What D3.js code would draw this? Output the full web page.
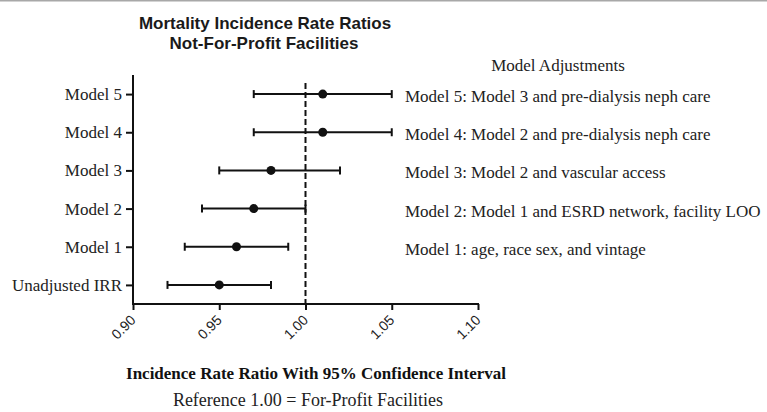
<!DOCTYPE html>
<html>
<head>
<meta charset="utf-8">
<script src="https://cdn.jsdelivr.net/npm/d3@7"></script>
<style>
  body { margin: 0; background: #fff; }
  svg { display: block; }
  .serif { font-family: "Liberation Serif", "Times New Roman", serif; }
</style>
</head>
<body>
<svg width="767" height="412"></svg>
<script>
// Models, from bottom to top
var models = ["Unadjusted IRR", "Model 1", "Model 2", "Model 3", "Model 4", "Model 5"];
var estimates = [0.95, 0.96, 0.97, 0.98, 1.01, 1.01];
var lowerCI = [0.92, 0.93, 0.94, 0.95, 0.97, 0.97];
var upperCI = [0.98, 0.99, 1.00, 1.02, 1.05, 1.05];

var xTicks = [0.90, 0.95, 1.00, 1.05, 1.10];

var adjustments = [
    "Model 5: Model 3 and pre-dialysis neph care",
    "Model 4: Model 2 and pre-dialysis neph care",
    "Model 3: Model 2 and vascular access",
    "Model 2: Model 1 and ESRD network, facility LOO",
    "Model 1: age, race sex, and vintage"
];
var adjustmentRows = ["Model 5", "Model 4", "Model 3", "Model 2", "Model 1"];

var data = models.map(function (m, i) {
    return { model: m, est: estimates[i], lo: lowerCI[i], hi: upperCI[i] };
});

var svg = d3.select("svg");

// thin grey rule along the top edge
svg.append("rect")
    .attr("x", 0).attr("y", 0)
    .attr("width", 767).attr("height", 1.5)
    .attr("fill", "#a8a8a8");

var xScale = d3.scaleLinear()
    .domain([0.90, 1.10])
    .range([133, 478]);

var yScale = d3.scalePoint()
    .domain(models)
    .range([304, 75])
    .padding(0.5);

// Title
svg.append("text")
    .attr("x", 265).attr("y", 29)
    .attr("text-anchor", "middle")
    .style("font", "bold 17px 'Liberation Sans', Arial, sans-serif")
    .attr("fill", "#1a1a1a")
    .text("Mortality Incidence Rate Ratios");
svg.append("text")
    .attr("x", 264).attr("y", 49)
    .attr("text-anchor", "middle")
    .style("font", "bold 17px 'Liberation Sans', Arial, sans-serif")
    .attr("fill", "#1a1a1a")
    .text("Not-For-Profit Facilities");

// x axis
var xAxis = d3.axisBottom(xScale)
    .tickValues(xTicks)
    .tickFormat(d3.format(".2f"))
    .tickSize(6)
    .tickSizeOuter(0);

var gx = svg.append("g")
    .attr("transform", "translate(0,304)")
    .call(xAxis);
gx.select(".domain").attr("stroke", "#111").attr("stroke-width", 2)
    .attr("d", "M" + (xScale.range()[0] - 1) + ",0H" + (xScale.range()[1] + 1));
gx.selectAll(".tick line").attr("stroke", "#111").attr("stroke-width", 2);
gx.selectAll(".tick text")
    .style("font", "14px 'Liberation Sans', Arial, sans-serif")
    .attr("fill", "#222")
    .attr("text-anchor", "end")
    .attr("dy", null)
    .attr("transform", "translate(3,17) rotate(-45)")
    .attr("x", 0).attr("y", 0);

// y axis
var yAxis = d3.axisLeft(yScale)
    .tickSize(7)
    .tickSizeOuter(0)
    .tickPadding(4);

var gy = svg.append("g")
    .attr("transform", "translate(133,0)")
    .call(yAxis);
gy.select(".domain").attr("stroke", "#111").attr("stroke-width", 2)
    .attr("d", "M0,75V305");
gy.selectAll(".tick line").attr("stroke", "#111").attr("stroke-width", 2);
gy.selectAll(".tick text")
    .attr("class", "serif")
    .style("font-size", "17px")
    .attr("fill", "#222");

// reference line at 1.00
svg.append("line")
    .attr("x1", xScale(1)).attr("x2", xScale(1))
    .attr("y1", 83).attr("y2", 304)
    .attr("stroke", "#111")
    .attr("stroke-width", 2)
    .attr("stroke-dasharray", "6,3");

// error bars
var rows = svg.append("g").selectAll("g")
    .data(data)
    .enter().append("g")
    .attr("transform", function (d) { return "translate(0," + yScale(d.model) + ")"; });

rows.append("line")
    .attr("x1", function (d) { return xScale(d.lo); })
    .attr("x2", function (d) { return xScale(d.hi); })
    .attr("stroke", "#111").attr("stroke-width", 2);
rows.append("line")
    .attr("x1", function (d) { return xScale(d.lo); })
    .attr("x2", function (d) { return xScale(d.lo); })
    .attr("y1", -4).attr("y2", 4)
    .attr("stroke", "#111").attr("stroke-width", 2);
rows.append("line")
    .attr("x1", function (d) { return xScale(d.hi); })
    .attr("x2", function (d) { return xScale(d.hi); })
    .attr("y1", -4).attr("y2", 4)
    .attr("stroke", "#111").attr("stroke-width", 2);
rows.append("circle")
    .attr("cx", function (d) { return xScale(d.est); })
    .attr("r", 4.5)
    .attr("fill", "#111");

// Model adjustments legend
svg.append("text")
    .attr("class", "serif")
    .attr("x", 558).attr("y", 71)
    .attr("text-anchor", "middle")
    .style("font-size", "17px")
    .attr("fill", "#222")
    .text("Model Adjustments");

svg.append("g").selectAll("text")
    .data(adjustments)
    .enter().append("text")
    .attr("class", "serif")
    .attr("x", 405)
    .attr("y", function (d, i) { return yScale(adjustmentRows[i]) + 8; })
    .style("font-size", "17px")
    .attr("fill", "#222")
    .text(function (d) { return d; });

// axis titles
svg.append("text")
    .attr("class", "serif")
    .attr("x", 316).attr("y", 379)
    .attr("text-anchor", "middle")
    .style("font-size", "17px")
    .style("font-weight", "bold")
    .attr("fill", "#111")
    .text("Incidence Rate Ratio With 95% Confidence Interval");

svg.append("text")
    .attr("class", "serif")
    .attr("x", 308).attr("y", 406)
    .attr("text-anchor", "middle")
    .style("font-size", "18px")
    .attr("fill", "#222")
    .text("Reference 1.00 = For-Profit Facilities");
</script>
</body>
</html>
